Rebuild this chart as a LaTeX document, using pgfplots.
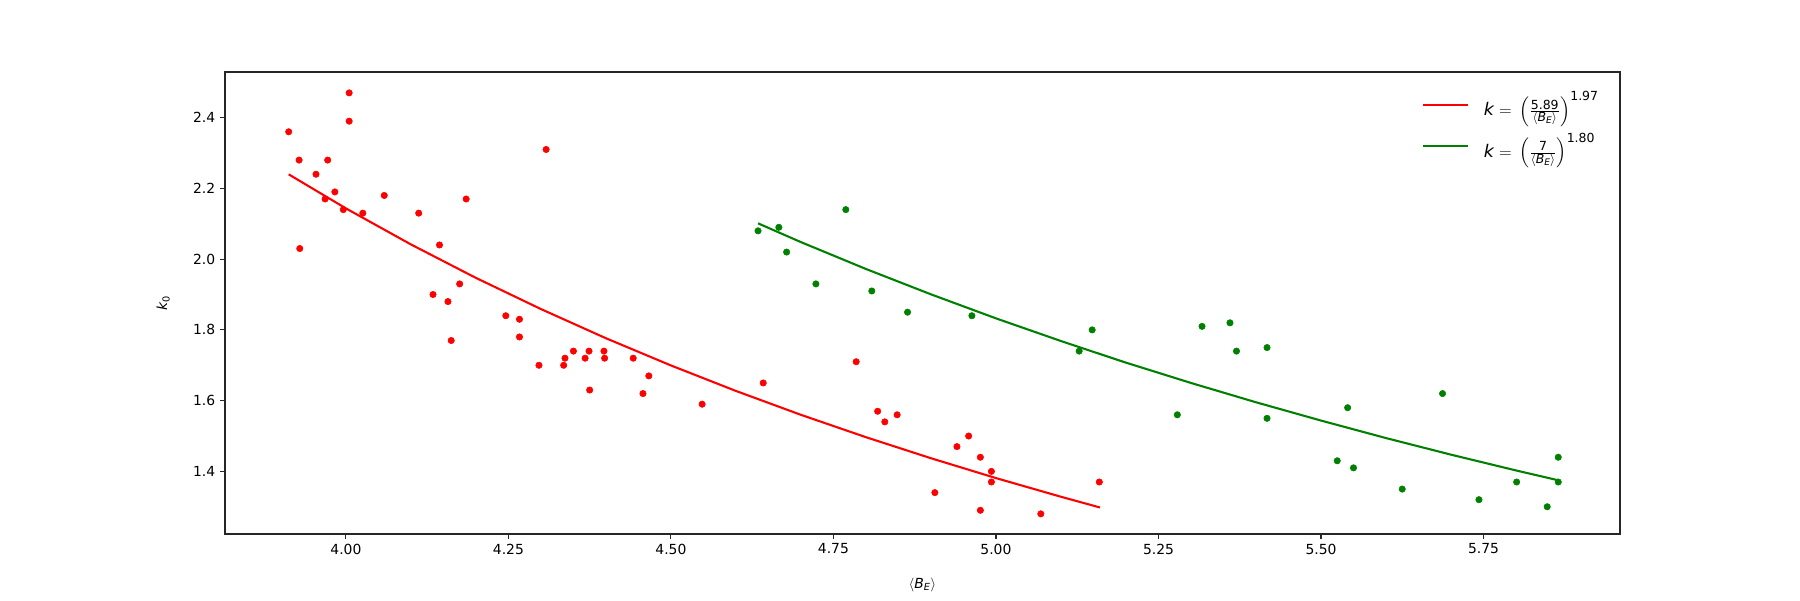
\documentclass[border=0pt]{standalone}
\usepackage{fontspec}
\setmainfont{DejaVu Sans}
\usepackage{amsmath}
\usepackage{pgfplots}
\pgfplotsset{compat=1.18}
\definecolor{mplred}{rgb}{1,0,0}
\definecolor{mplgreen}{rgb}{0,0.5,0}
\newcommand{\fs}[1]{\text{\fontsize{9}{10}\selectfont #1}}
\newcommand{\BE}{\fs{$\langle$\textit{B}\raisebox{-0.25ex}{\fontsize{6.5}{7}\selectfont\textit{E}}$\rangle$}}
\begin{document}
\begin{tikzpicture}
\useasboundingbox (-162pt,-47.52pt) rectangle (1134pt,384.48pt);
\begin{axis}[
  at={(0,0)}, anchor=south west,
  scale only axis, width=1004.4pt, height=332.64pt,
  xmin=3.814, xmax=5.960, ymin=1.223, ymax=2.529,
  axis line style={line width=0.8pt, black!85},
  tick pos=left, tick align=outside,
  major tick length=3.5pt,
  every tick/.style={line width=0.8pt, black!85},
  xtick={4.00,4.25,4.50,4.75,5.00,5.25,5.50,5.75},
  ytick={1.4,1.6,1.8,2.0,2.2,2.4},
  xticklabel style={/pgf/number format/.cd, fixed, fixed zerofill, precision=2, assume math mode=true},
  yticklabel style={/pgf/number format/.cd, fixed, fixed zerofill, precision=1, assume math mode=true},
  tick label style={font=\fontsize{10}{12}\selectfont},
  label style={font=\fontsize{10}{12}\selectfont},
  xlabel={$\langle$\textit{B}$_{\textit{\scriptsize E}}\rangle$},
  ylabel={\textit{k}$_{\text{\scriptsize 0}}$},
  xlabel style={yshift=-10pt},
  ylabel style={yshift=10pt},
  legend style={at={(0.99,0.97)}, anchor=north east, draw=none, fill=white,
    font=\fontsize{12.5}{14}\selectfont, row sep=7pt},
  legend cell align=left,
  legend image code/.code={\draw[#1, line width=1.5pt] (0pt,0pt) -- (32pt,0pt);},
]
% red data
\addplot[only marks, mark=*, mark size=2.3pt, mplred, mark options={draw=none, fill=mplred}, forget plot] coordinates {
(3.912,2.36) (3.928,2.28) (3.929,2.03) (3.954,2.24) (3.972,2.28) (3.968,2.17)
(3.983,2.19) (3.996,2.14) (4.005,2.47) (4.005,2.39) (4.026,2.13) (4.059,2.18)
(4.112,2.13) (4.144,2.04) (4.185,2.17) (4.308,2.31) (4.134,1.90) (4.157,1.88)
(4.175,1.93) (4.162,1.77) (4.246,1.84) (4.267,1.83) (4.267,1.78) (4.297,1.70)
(4.335,1.70) (4.337,1.72) (4.350,1.74) (4.368,1.72) (4.374,1.74) (4.375,1.63)
(4.397,1.74) (4.398,1.72) (4.442,1.72) (4.466,1.67) (4.457,1.62) (4.548,1.59)
(4.642,1.65) (4.785,1.71) (4.818,1.57) (4.829,1.54) (4.848,1.56) (4.906,1.34)
(4.940,1.47) (4.958,1.50) (4.976,1.44) (4.993,1.40) (4.993,1.37) (4.976,1.29)
(5.069,1.28) (5.159,1.37)
};
% green data
\addplot[only marks, mark=*, mark size=2.3pt, mplgreen, mark options={draw=none, fill=mplgreen}, forget plot] coordinates {
(4.634,2.08) (4.666,2.09) (4.678,2.02) (4.769,2.14) (4.723,1.93) (4.809,1.91)
(4.864,1.85) (4.963,1.84) (5.148,1.80) (5.128,1.74) (5.279,1.56) (5.317,1.81)
(5.360,1.82) (5.370,1.74) (5.417,1.75) (5.417,1.55) (5.525,1.43) (5.541,1.58)
(5.550,1.41) (5.625,1.35) (5.687,1.62) (5.743,1.32) (5.801,1.37) (5.848,1.30)
(5.865,1.44) (5.865,1.37)
};
% fit curves
\addplot[mplred, line width=1.5pt, no marks] coordinates {
(3.912,2.2397) (4.0,2.1435) (4.1,2.0416) (4.2,1.9470) (4.3,1.8589) (4.4,1.7764)
(4.5,1.6995) (4.6,1.6274) (4.7,1.5599) (4.8,1.4967) (4.9,1.4372) (5.0,1.3811)
(5.1,1.3283) (5.16,1.2980)
};
\addlegendentry{\hspace{9pt}\textit{k}$\;{=}\;\left(\frac{\fs{5.89}}{\BE}\right)^{\fs{1.97}}$}
\addplot[mplgreen, line width=1.5pt, no marks] coordinates {
(4.634,2.1012) (4.7,2.0481) (4.8,1.9722) (4.9,1.9005) (5.0,1.8326) (5.1,1.7685)
(5.2,1.7074) (5.3,1.6500) (5.4,1.5954) (5.5,1.5437) (5.6,1.4942) (5.7,1.4473)
(5.8,1.4027) (5.865,1.3749)
};
\addlegendentry{\hspace{9pt}\textit{k}$\;{=}\;\left(\frac{\fs{7}}{\BE}\right)^{\fs{1.80}}$}
\end{axis}
\end{tikzpicture}
\end{document}
